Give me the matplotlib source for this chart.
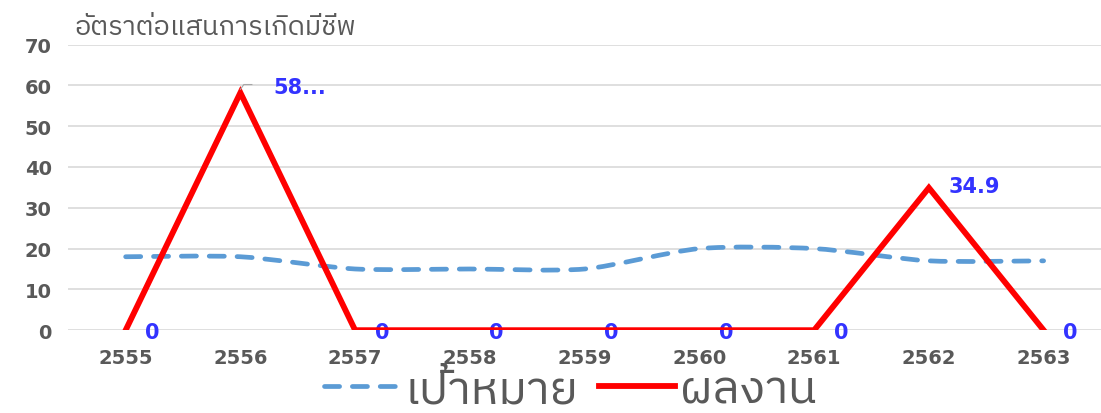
import numpy as np
import matplotlib
matplotlib.use("Agg")
import matplotlib.pyplot as plt
from matplotlib import font_manager
from matplotlib.path import Path
from matplotlib.patches import PathPatch
from matplotlib.lines import Line2D

years = ["2555", "2556", "2557", "2558", "2559", "2560", "2561", "2562", "2563"]
target = [18, 18, 15, 15, 15, 20, 20, 17, 17]
actual = [0, 58.2, 0, 0, 0, 0, 0, 34.9, 0]
actual_labels = ["0", "58...", "0", "0", "0", "0", "0", "34.9", "0"]

# look for a font that can draw Thai
thai = [f.name for f in font_manager.fontManager.ttflist
        if "thai" in f.name.lower() or "garuda" in f.name.lower() or "loma" in f.name.lower()]
plt.rcParams["font.family"] = sorted(set(thai)) + ["Noto Sans", "DejaVu Sans"]

fig = plt.figure(figsize=(11.01, 4.14), dpi=100)
ax = fig.add_axes([0.062, 0.2, 0.938, 0.69])

x = np.arange(len(years))
dash = (0, (3.2, 2.7))

# smoothed target line, drawn as bezier path through the data points
pts = np.column_stack([x, target]).astype(float)
verts = [tuple(pts[0])]
codes = [Path.MOVETO]
for i in range(len(pts) - 1):
    p0 = pts[i - 1] if i > 0 else pts[i]
    p1, p2 = pts[i], pts[i + 1]
    p3 = pts[i + 2] if i + 2 < len(pts) else pts[i + 1]
    c1 = p1 + (p2 - p0) / 8
    c2 = p2 - (p3 - p1) / 8
    verts += [tuple(c1), tuple(c2), tuple(p2)]
    codes += [Path.CURVE4] * 3
ax.add_patch(PathPatch(Path(verts, codes), fill=False, edgecolor="#5B9BD5",
                       lw=3.4, linestyle=dash, capstyle="round", zorder=3))

ax.plot(x, actual, color="#FF0000", lw=4.2, zorder=4, solid_joinstyle="miter")

blue = "#3333FF"
lab_kw = dict(textcoords="offset points", ha="left", va="center", color=blue,
              fontsize=15, fontweight="bold", family="DejaVu Sans")
for i, (v, lab) in enumerate(zip(actual, actual_labels)):
    if v == 0:
        ax.annotate(lab, (i, v), xytext=(14, -1), **lab_kw)
    elif lab.endswith("..."):
        ax.plot([i, i + 0.03, i + 0.1], [v + 0.8, v + 2, v + 2], color="#A6A6A6", lw=0.8, zorder=5)
        ax.annotate(lab, (i, v), xytext=(24, 4), **lab_kw)
    else:
        ax.annotate(lab, (i, v), xytext=(14, 1), **lab_kw)

ax.set_xlim(-0.5, len(years) - 0.5)
ax.set_ylim(0, 70)
ax.set_yticks(range(0, 71, 10))
ax.set_xticks(x)
ax.set_xticklabels(years)
ax.tick_params(length=0, labelsize=14, labelcolor="#595959")
ax.tick_params(axis="x", pad=13)
ax.tick_params(axis="y", pad=12)
for t in ax.get_xticklabels() + ax.get_yticklabels():
    t.set_fontweight("bold")
    t.set_family("DejaVu Sans")
ax.grid(axis="y", color="#D9D9D9", lw=1.2)
ax.set_axisbelow(True)
for s in ax.spines.values():
    s.set_visible(False)

fig.text(0.068, 0.916, "อัตราต่อแสนการเกิดมีชีพ", fontsize=19.5, color="#595959")

h = [Line2D([], [], color="#5B9BD5", lw=3.4, linestyle=dash, dash_capstyle="round"),
     Line2D([], [], color="#FF0000", lw=4.2)]
fig.legend(h, ["เป้าหมาย", "ผลงาน"], loc="lower center", bbox_to_anchor=(0.518, -0.1),
           ncol=2, frameon=False, fontsize=34, labelcolor="#595959", handlelength=1.6,
           handletextpad=0.1, columnspacing=0.45)

fig.savefig("out.png", dpi=100)
